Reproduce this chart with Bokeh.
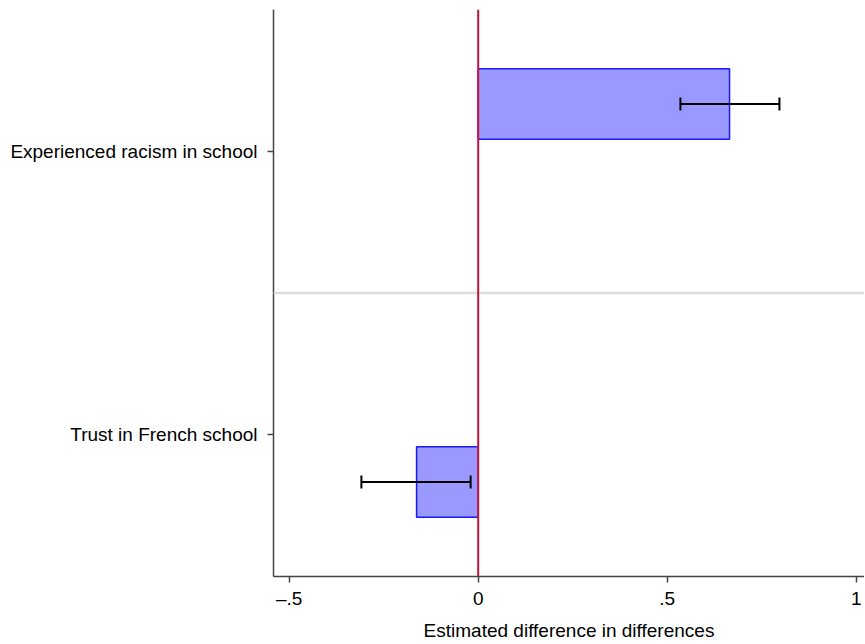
from bokeh.plotting import figure
from bokeh.models import FixedTicker, Span, Whisker, ColumnDataSource, TeeHead, Range1d
from bokeh.embed import file_html
from bokeh.resources import INLINE

categories = ["Trust in French school", "Experienced racism in school"]
estimates = [-0.163, 0.665]
ci_low = [-0.309, 0.535]
ci_high = [-0.020, 0.797]
x_ticks = [-0.5, 0, 0.5, 1]
x_tick_labels = ["\u2013.5", "0", ".5", "1"]

offset = 0.168
cat_pos = list(range(len(categories)))
bar_y = [c + (offset if c >= 0.5 else -offset) for c in cat_pos]

src = ColumnDataSource(dict(y=bar_y, est=estimates, lo=ci_low, hi=ci_high))

FONT = "Liberation Sans"
p = figure(width=864, height=644, output_backend="svg", toolbar_location=None,
           x_range=Range1d(-0.5415, 1.022), y_range=Range1d(-0.502, 1.502),
           min_border_left=273, min_border_right=0, min_border_top=9, min_border_bottom=68)
p.outline_line_color = None
p.xgrid.visible = False
p.ygrid.visible = False
p.background_fill_color = "white"

p.add_layout(Span(location=0.5, dimension="width", line_color="#dcdcdc", line_width=2.5))

p.hbar(y="y", left=0, right="est", height=0.25, source=src,
       fill_color="#9999ff", line_color="#1a1aff", line_width=1.5)

p.add_layout(Span(location=0, dimension="height", line_color="#c8143c", line_width=2))

w = Whisker(source=src, base="y", lower="lo", upper="hi", dimension="width",
            line_color="black", line_width=2, level="overlay",
            upper_head=TeeHead(size=13, line_color="black", line_width=2),
            lower_head=TeeHead(size=13, line_color="black", line_width=2))
p.add_layout(w)

p.xaxis.ticker = FixedTicker(ticks=x_ticks)
p.xaxis.major_label_overrides = {t: l for t, l in zip(x_ticks, x_tick_labels)}
p.yaxis.ticker = FixedTicker(ticks=cat_pos)
p.yaxis.major_label_overrides = {c: n for c, n in zip(cat_pos, categories)}
p.xaxis.axis_label = "Estimated difference in differences"

for ax in (p.xaxis, p.yaxis):
    ax.axis_line_color = "#444444"
    ax.axis_line_width = 1.5
    ax.major_tick_line_color = "#444444"
    ax.major_tick_line_width = 1.5
    ax.major_tick_out = 6
    ax.major_tick_in = 0
    ax.minor_tick_line_color = None
    ax.major_label_text_font = FONT
    ax.major_label_text_font_size = "19px"
    ax.major_label_text_color = "black"
    ax.axis_label_text_font = FONT
    ax.axis_label_text_font_size = "19px"
    ax.axis_label_text_font_style = "normal"
    ax.axis_label_text_color = "black"

p.yaxis.major_label_standoff = 10
p.xaxis.major_label_standoff = 5
p.xaxis.axis_label_standoff = 8

open("out.html", "w").write(file_html(p, INLINE))
